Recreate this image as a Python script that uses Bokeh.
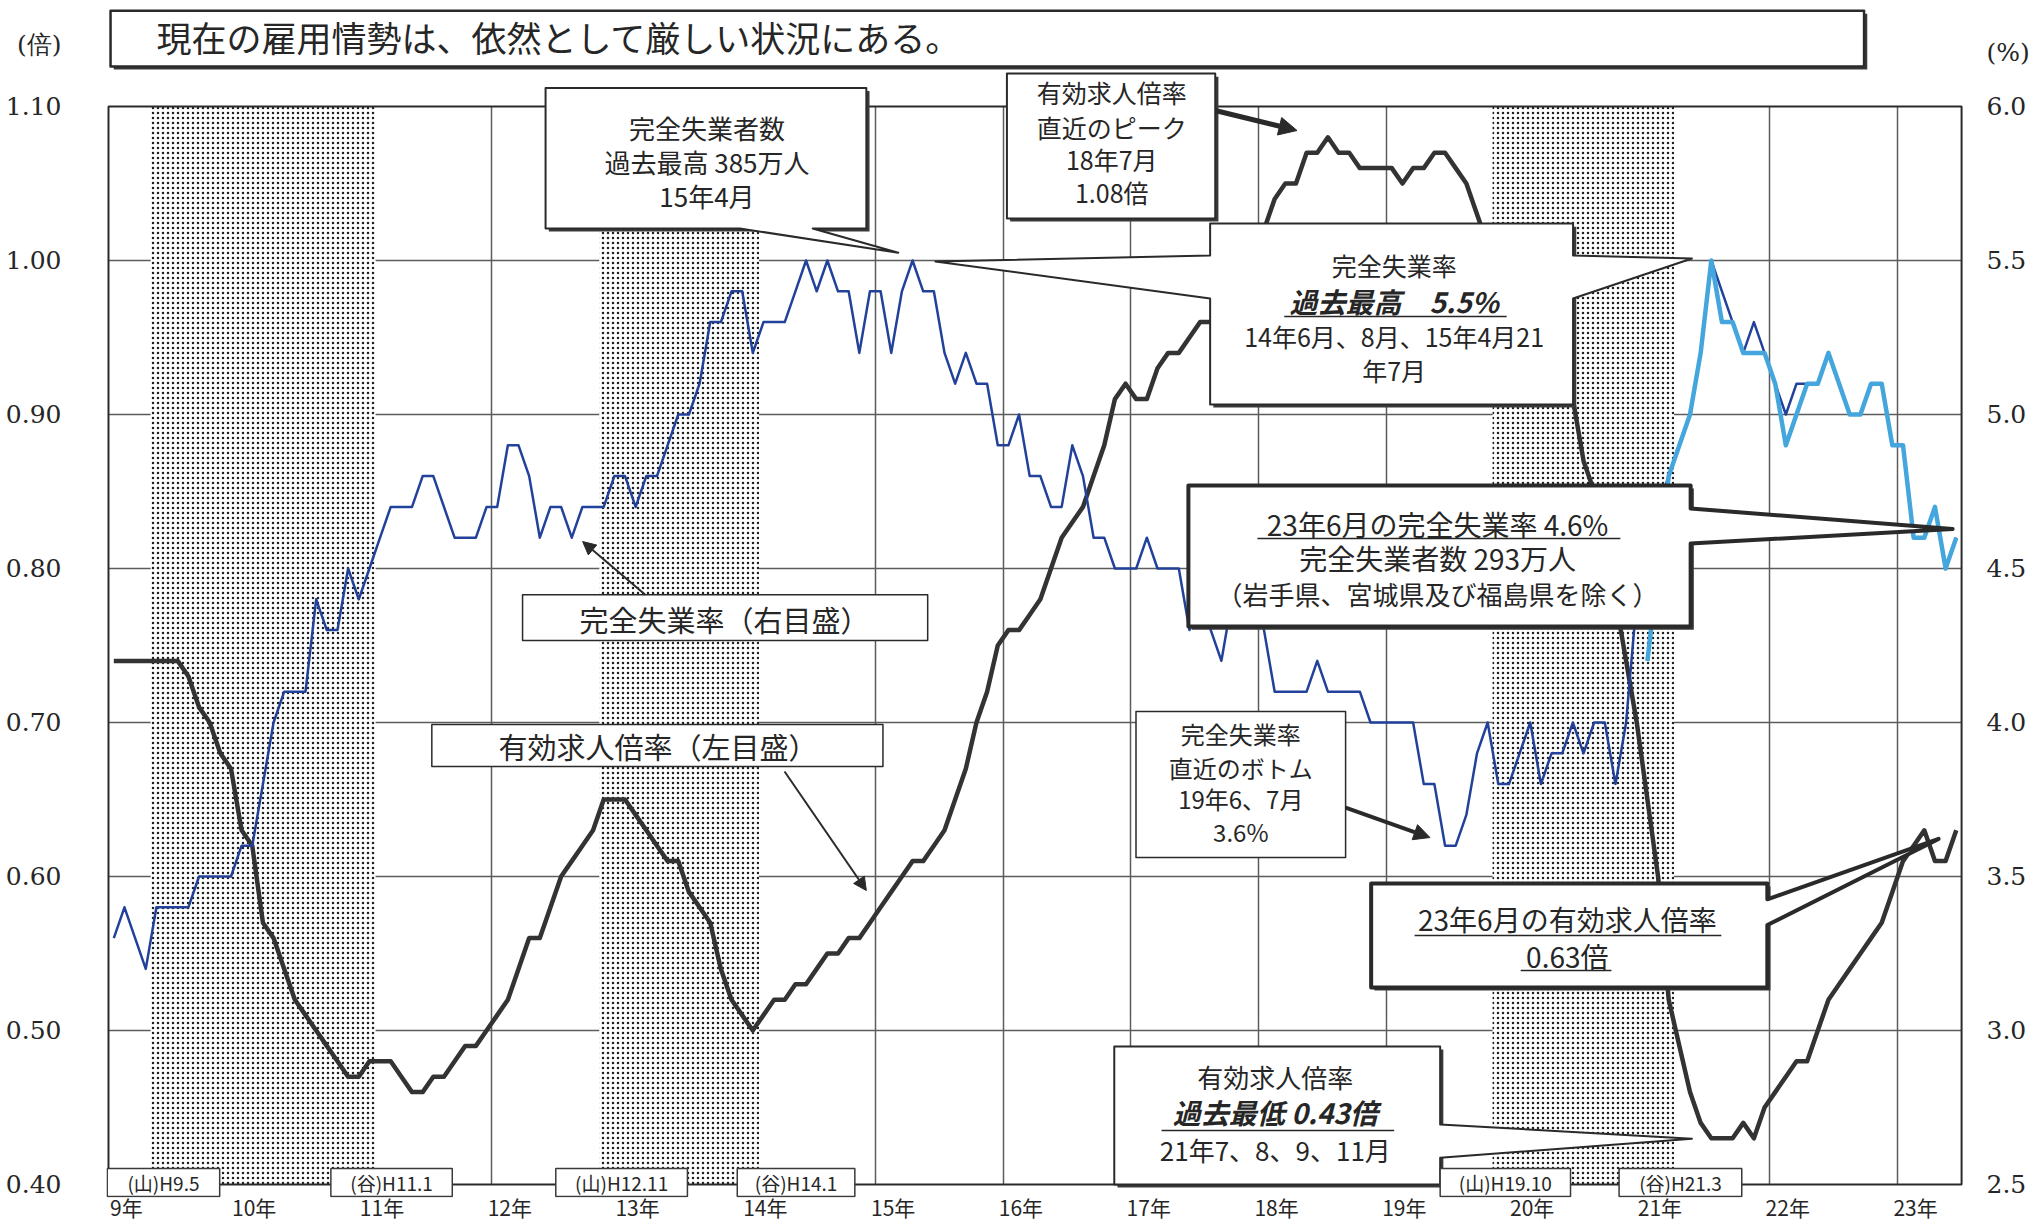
from bokeh.plotting import figure
from bokeh.models import Range1d, LinearAxis, FixedTicker, Arrow, NormalHead, Grid
from bokeh.core.properties import value
from bokeh.embed import file_html
from bokeh.resources import INLINE

JP = "Noto Sans CJK JP"
SERIF = "DejaVu Serif"
INK = "#262626"
GRID_C = "#5c5c5c"
LINE_BLACK = "#333333"
BLUE = "#22419a"
LBLUE = "#44a6dc"

# ---------------- data ----------------
first_year = 9          # 平成9年1月 から月次
year_ticks = list(range(9, 24))
year_labels = [f"{y}年" for y in year_ticks]
grid_years = list(range(10, 24))

left_ticks = [0.40, 0.50, 0.60, 0.70, 0.80, 0.90, 1.00, 1.10]
left_tick_labels = ["0.40", "0.50", "0.60", "0.70", "0.80", "0.90", "1.00", "1.10"]
right_ticks = [2.5, 3.0, 3.5, 4.0, 4.5, 5.0, 5.5, 6.0]
right_tick_labels = ["2.5", "3.0", "3.5", "4.0", "4.5", "5.0", "5.5", "6.0"]

# 有効求人倍率（倍, 左目盛）
ratio = [
    0.74, 0.74, 0.74, 0.74, 0.74, 0.74, 0.74, 0.73, 0.71, 0.70,
    0.68, 0.67, 0.63, 0.62, 0.57, 0.56, 0.54, 0.52, 0.51, 0.50,
    0.49, 0.48, 0.47, 0.47, 0.48, 0.48, 0.48, 0.47, 0.46, 0.46,
    0.47, 0.47, 0.48, 0.49, 0.49, 0.50, 0.51, 0.52, 0.54, 0.56,
    0.56, 0.58, 0.60, 0.61, 0.62, 0.63, 0.65, 0.65, 0.65, 0.64,
    0.63, 0.62, 0.61, 0.61, 0.59, 0.58, 0.57, 0.54, 0.52, 0.51,
    0.50, 0.51, 0.52, 0.52, 0.53, 0.53, 0.54, 0.55, 0.55, 0.56,
    0.56, 0.57, 0.58, 0.59, 0.60, 0.61, 0.61, 0.62, 0.63, 0.65,
    0.67, 0.70, 0.72, 0.75, 0.76, 0.76, 0.77, 0.78, 0.80, 0.82,
    0.83, 0.84, 0.86, 0.88, 0.91, 0.92, 0.91, 0.91, 0.93, 0.94,
    0.94, 0.95, 0.96, 0.96, 0.97, 0.98, 0.99, 1.00, 1.02, 1.04,
    1.05, 1.05, 1.07, 1.07, 1.08, 1.07, 1.07, 1.06, 1.06, 1.06,
    1.06, 1.05, 1.06, 1.06, 1.07, 1.07, 1.06, 1.05, 1.03, 1.01,
    0.99, 0.98, 0.97, 0.96, 0.95, 0.94, 0.93, 0.91, 0.87, 0.85,
    0.81, 0.78, 0.74, 0.70, 0.65, 0.60, 0.52, 0.49, 0.46, 0.44,
    0.43, 0.43, 0.43, 0.44, 0.43, 0.45, 0.46, 0.47, 0.48, 0.48,
    0.50, 0.52, 0.53, 0.54, 0.55, 0.56, 0.57, 0.59, 0.61, 0.62,
    0.63, 0.61, 0.61, 0.63,
]

# 完全失業率（%, 右目盛）
unemp = [
    3.3, 3.4, 3.3, 3.2, 3.4, 3.4, 3.4, 3.4, 3.5, 3.5,
    3.5, 3.5, 3.6, 3.6, 3.8, 4.0, 4.1, 4.1, 4.1, 4.4,
    4.3, 4.3, 4.5, 4.4, 4.5, 4.6, 4.7, 4.7, 4.7, 4.8,
    4.8, 4.7, 4.6, 4.6, 4.6, 4.7, 4.7, 4.9, 4.9, 4.8,
    4.6, 4.7, 4.7, 4.6, 4.7, 4.7, 4.7, 4.8, 4.8, 4.7,
    4.8, 4.8, 4.9, 5.0, 5.0, 5.1, 5.3, 5.3, 5.4, 5.4,
    5.2, 5.3, 5.3, 5.3, 5.4, 5.5, 5.4, 5.5, 5.4, 5.4,
    5.2, 5.4, 5.4, 5.2, 5.4, 5.5, 5.4, 5.4, 5.2, 5.1,
    5.2, 5.1, 5.1, 4.9, 4.9, 5.0, 4.8, 4.8, 4.7, 4.7,
    4.9, 4.8, 4.6, 4.6, 4.5, 4.5, 4.5, 4.6, 4.5, 4.5,
    4.5, 4.3, 4.4, 4.3, 4.2, 4.4, 4.5, 4.4, 4.3, 4.1,
    4.1, 4.1, 4.1, 4.2, 4.1, 4.1, 4.1, 4.1, 4.0, 4.0,
    4.0, 4.0, 4.0, 3.8, 3.8, 3.6, 3.6, 3.7, 3.9, 4.0,
    3.8, 3.8, 3.9, 4.0, 3.8, 3.9, 3.9, 4.0, 3.9, 4.0,
    4.0, 3.8, 4.0, 4.4, 4.6, 4.7, 4.8, 4.9, 5.0, 5.2,
    5.5, 5.4, 5.3, 5.2, 5.3, 5.2, 5.1, 5.0, 5.1, 5.1,
    5.1, 5.2, 5.1, 5.0, 5.0, 5.1, 5.1, 4.9, 4.9, 4.6,
    4.6, 4.7, 4.5, 4.6,
]

# 完全失業率（岩手県、宮城県及び福島県を除く）21年1月から
unemp_new_start = 144
unemp_new = [
    4.2, 4.5, 4.8, 4.9, 5.0, 5.2, 5.5, 5.3, 5.3, 5.2,
    5.2, 5.2, 5.1, 4.9, 5.0, 5.1, 5.1, 5.2, 5.1, 5.0,
    5.0, 5.1, 5.1, 4.9, 4.9, 4.6, 4.6, 4.7, 4.5, 4.6,
]

# 景気後退期（山→谷）
shade_start = [9.33, 12.84, 19.83]
shade_end = [11.09, 14.09, 21.25]
cycle_labels = ["(山)H9.5", "(谷)H11.1", "(山)H12.11", "(谷)H14.1", "(山)H19.10", "(谷)H21.3"]
cycle_left = [8.99, 10.74, 12.50, 13.92, 19.42, 20.82]
cycle_right = [9.87, 11.69, 13.53, 14.84, 20.44, 21.78]

x_month = [first_year + (i + 0.5) / 12 for i in range(len(ratio))]
x_new = x_month[unemp_new_start:]

# ---------------- figure ----------------
Y0, Y1 = 0.39156, 1.16364
p = figure(frame_width=1857, frame_height=1189,
           x_range=Range1d(8.9844, 23.515), y_range=Range1d(Y0, Y1),
           output_backend="svg", toolbar_location=None,
           min_border_left=106, min_border_right=64, min_border_top=8, min_border_bottom=22,
           background_fill_color="white", border_fill_color="white")
p.outline_line_color = None


def to_pct(v):
    return 2.5 + (v - 0.4) * 5


p.extra_y_ranges = {"pct": Range1d(to_pct(Y0), to_pct(Y1))}

# grids
has_cb = "cross_bounds" in Grid.properties()
xg = p.xgrid[0]
yg = p.ygrid[0]
xg.ticker = FixedTicker(ticks=grid_years, minor_ticks=[])
yg.ticker = FixedTicker(ticks=left_ticks[1:-1], minor_ticks=[])
for g in (xg, yg):
    g.grid_line_color = GRID_C
    g.grid_line_width = 1.5
if has_cb:
    xg.cross_bounds = (0.40, 1.10)
    yg.cross_bounds = (9.0, 23.5)
else:
    xg.grid_line_color = None
    yg.grid_line_color = None
    p.segment(x0=grid_years, x1=grid_years, y0=0.40, y1=1.10, line_color=GRID_C, line_width=1.5)
    p.segment(x0=9.0, x1=23.5, y0=left_ticks[1:-1], y1=left_ticks[1:-1], line_color=GRID_C, line_width=1.5)

# axes
ya = p.yaxis[0]
ya.ticker = FixedTicker(ticks=left_ticks + [1.14], minor_ticks=[])
ov = dict(zip(left_ticks, left_tick_labels))
ov[1.14] = "(倍)"
ya.major_label_overrides = ov
ya.major_label_standoff = 39

ra = LinearAxis(y_range_name="pct", ticker=FixedTicker(ticks=right_ticks + [6.175], minor_ticks=[]))
rov = dict(zip(right_ticks, right_tick_labels))
rov[6.175] = "(%)"
ra.major_label_overrides = rov
ra.major_label_standoff = 17
p.add_layout(ra, "right")

xa = p.xaxis[0]
xt = [y + 0.14 for y in year_ticks]
xa.ticker = FixedTicker(ticks=xt, minor_ticks=[])
xa.major_label_overrides = dict(zip(xt, year_labels))
xa.major_label_standoff = -12
xa.major_label_text_font = JP
xa.major_label_text_font_size = "21px"

for a in (ya, ra):
    a.major_label_text_font = SERIF
    a.major_label_text_font_size = "25px"
for a in (ya, ra, xa):
    a.axis_line_color = None
    a.major_tick_line_color = None
    a.minor_tick_line_color = None
    a.major_label_text_color = INK

# shading (recessions)
p.quad(left=shade_start, right=shade_end, bottom=0.40, top=1.10,
       fill_color="white", line_color=None,
       hatch_pattern="dot", hatch_scale=5, hatch_color="#1e1e1e", hatch_weight=1.5)

# frame
p.quad(left=9.0, right=23.5, bottom=0.40, top=1.10, fill_color=None, line_color="#2a2a2a", line_width=2)

# data lines
p.line(x_month, ratio, line_color=LINE_BLACK, line_width=4.5, line_join="round")
p.line(x_month, unemp, y_range_name="pct", line_color=BLUE, line_width=2.5, line_join="round")
p.line(x_new, unemp_new, y_range_name="pct", line_color=LBLUE, line_width=4.5, line_join="round")

# ---------------- annotations ----------------
DX, DY = 0.025, 0.002


def callout(x0, x1, y0, y1, ptrs):
    xs, ys = [x0, x1], [y1, y1]
    for s, a, b, tx, ty in ptrs:
        if s == "right":
            xs += [x1, tx, x1]
            ys += [a, ty, b]
    xs.append(x1)
    ys.append(y0)
    for s, a, b, tx, ty in ptrs:
        if s == "bottom":
            xs += [b, tx, a]
            ys += [y0, ty, y0]
    xs.append(x0)
    ys.append(y0)
    for s, a, b, tx, ty in ptrs:
        if s == "left":
            xs += [x0, tx, x0]
            ys += [b, ty, a]
    return xs, ys


callouts = [
    ((12.42, 14.93, 1.0208, 1.112), [("bottom", 13.94, 14.51, 15.18, 1.005)], 2, True),
    ((16.03, 17.66, 1.0273, 1.1214), [], 2, True),
    ((17.62, 20.46, 0.9065, 1.024), [("left", 1.0032, 0.9753, 15.47, 0.9994),
                                     ("right", 1.0032, 0.9753, 21.39, 1.0013)], 2, True),
    ((12.24, 15.41, 0.7532, 0.783), [], 1.5, False),
    ((11.53, 15.06, 0.6714, 0.6987), [], 1.5, False),
    ((17.45, 21.38, 0.7623, 0.8539), [("right", 0.839, 0.8162, 23.43, 0.8256)], 4, True),
    ((17.04, 18.68, 0.6123, 0.7071), [], 1.5, False),
    ((18.88, 21.98, 0.528, 0.5955), [("right", 0.5852, 0.5685, 23.32, 0.6244)], 4, True),
    ((16.87, 19.42, 0.40, 0.4896), [("right", 0.439, 0.4174, 21.39, 0.4297)], 2, True),
    ((9.016, 22.737, 1.126, 1.1622), [], 2.5, True),
]
for (x0, x1, y0, y1), ptrs, lw, sh in callouts:
    if sh:
        p.quad(left=x0 + DX, right=x1 + DX, bottom=y0 - DY, top=y1 - DY, fill_color="#3a3a3a", line_color=None)
    xs, ys = callout(x0, x1, y0, y1, ptrs)
    p.patch(xs, ys, fill_color="white", line_color="#2a2a2a", line_width=lw, line_join="round")

# business-cycle labels
p.quad(left=cycle_left, right=cycle_right, bottom=0.3922, top=0.4104,
       fill_color="white", line_color="#3a3a3a", line_width=1.5)
p.text(x=[(a + b) / 2 for a, b in zip(cycle_left, cycle_right)], y=[0.4013] * len(cycle_labels),
       text=cycle_labels, text_font=value(JP), text_font_size=value("19px"),
       text_align="center", text_baseline="middle", text_color=INK)

# arrows
for xs0, ys0, xe, ye, lw, hs in [
    (17.66, 1.0974, 18.30, 1.0844, 5, 18),
    (13.20, 0.783, 12.71, 0.8175, 2, 13),
    (14.29, 0.6682, 14.93, 0.5909, 2, 13),
    (18.68, 0.6448, 19.34, 0.6253, 4, 16),
]:
    p.add_layout(Arrow(end=NormalHead(size=hs, fill_color="#2a2a2a", line_color="#2a2a2a"),
                       x_start=xs0, y_start=ys0, x_end=xe, y_end=ye,
                       line_color="#2a2a2a", line_width=lw))

texts = [
    (9.375, 1.1455, "現在の雇用情勢は、依然として厳しい状況にある。", "35px", "normal", "left"),
    (13.683, 1.0864, "完全失業者数", "26px", "normal", "center"),
    (13.683, 1.0643, "過去最高 385万人", "26px", "normal", "center"),
    (13.683, 1.0422, "15年4月", "26px", "normal", "center"),
    (16.85, 1.1091, "有効求人倍率", "25px", "normal", "center"),
    (16.85, 1.0870, "直近のピーク", "25px", "normal", "center"),
    (16.85, 1.0662, "18年7月", "25px", "normal", "center"),
    (16.85, 1.0448, "1.08倍", "25px", "normal", "center"),
    (19.06, 0.9968, "完全失業率", "25px", "normal", "center"),
    (19.06, 0.9740, "過去最高　5.5%", "28px", "bold italic", "center"),
    (19.06, 0.9513, "14年6月、8月、15年4月21", "25px", "normal", "center"),
    (19.06, 0.9290, "年7月", "25px", "normal", "center"),
    (13.82, 0.7675, "完全失業率（右目盛）", "29px", "normal", "center"),
    (13.30, 0.6845, "有効求人倍率（左目盛）", "29px", "normal", "center"),
    (19.40, 0.8292, "23年6月の完全失業率 4.6%", "28px", "normal", "center"),
    (19.40, 0.8065, "完全失業者数 293万人", "28px", "normal", "center"),
    (19.40, 0.7838, "（岩手県、宮城県及び福島県を除く）", "26px", "normal", "center"),
    (17.86, 0.6929, "完全失業率", "24px", "normal", "center"),
    (17.86, 0.6710, "直近のボトム", "24px", "normal", "center"),
    (17.86, 0.6506, "19年6、7月", "24px", "normal", "center"),
    (17.86, 0.6292, "3.6%", "24px", "normal", "center"),
    (20.415, 0.5721, "23年6月の有効求人倍率", "28px", "normal", "center"),
    (20.415, 0.5487, "0.63倍", "28px", "normal", "center"),
    (18.13, 0.4701, "有効求人倍率", "26px", "normal", "center"),
    (18.13, 0.4468, "過去最低 0.43倍", "28px", "bold italic", "center"),
    (18.13, 0.4227, "21年7、8、9、11月", "26px", "normal", "center"),
]
for x, y, t, fs, st, al in texts:
    p.text(x=[x], y=[y], text=[t], text_font=value(JP), text_font_size=value(fs),
           text_font_style=st, text_align=al, text_baseline="middle", text_color=INK)

# underlines
ul = [
    (18.20, 19.94, 0.9636),
    (17.99, 20.83, 0.8195),
    (19.22, 21.62, 0.5617),
    (20.05, 20.76, 0.5390),
    (17.24, 19.06, 0.4351),
]
p.segment(x0=[u[0] for u in ul], x1=[u[1] for u in ul], y0=[u[2] for u in ul], y1=[u[2] for u in ul],
          line_color=INK, line_width=1.5)

open("out.html", "w").write(file_html(p, INLINE))
